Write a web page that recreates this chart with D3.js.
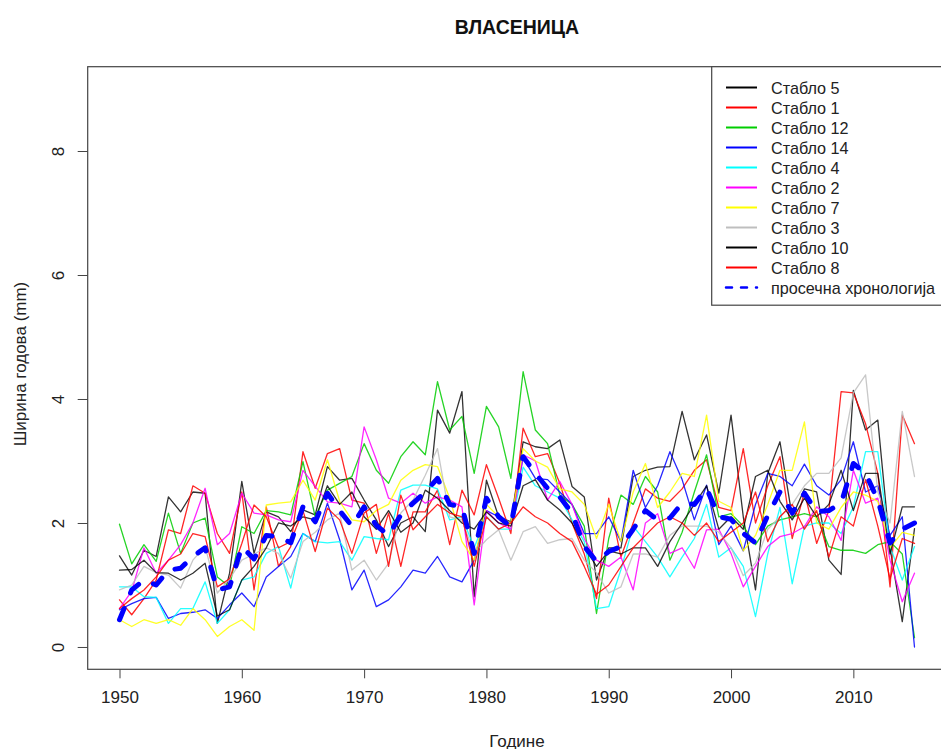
<!DOCTYPE html>
<html>
<head>
<meta charset="utf-8">
<script src="https://cdn.jsdelivr.net/npm/d3@7"></script>
<style>
  html, body { margin: 0; padding: 0; background: #fff; }
  svg { display: block; font-family: "Liberation Sans", Arial, sans-serif; }
</style>
</head>
<body>
<svg id="chart" width="941" height="749"></svg>
<script>
// Годишњи прираст (ширина годова, mm), 1950–2015
const years = d3.range(1950, 2016);

const stablo5 = [
  1.47, 1.16, 1.56, 1.46, 2.42, 2.18, 2.50, 2.48, 0.38, 1.19,
  2.67, 1.51, 2.18, 2.10, 1.86, 2.21, 2.13, 2.91, 2.69, 2.72,
  2.37, 2.05, 1.62, 2.00, 2.10, 1.86, 3.82, 3.45, 4.12, 0.81,
  2.69, 2.10, 2.02, 3.31, 3.23, 3.20, 3.34, 2.59, 2.42, 1.08,
  1.60, 1.60, 2.75, 2.85, 2.90, 2.91, 3.80, 3.02, 3.42, 2.48,
  3.74, 2.10, 0.92, 2.80, 3.31, 2.10, 2.55, 2.50, 1.40, 1.17,
  4.14, 3.50, 3.66, 1.60, 0.41, 1.91
];
const stablo1 = [
  0.76, 0.52, 0.78, 1.08, 1.89, 1.83, 2.60, 2.48, 1.83, 1.51,
  2.50, 0.92, 2.26, 1.30, 1.62, 3.15, 2.56, 3.12, 3.20, 2.37,
  2.32, 1.51, 2.16, 1.30, 2.18, 2.18, 2.53, 1.65, 2.53, 2.13,
  2.94, 2.40, 1.83, 3.53, 3.07, 3.12, 2.64, 2.00, 1.50, 0.78,
  2.40, 1.45, 2.00, 2.55, 2.40, 2.35, 2.55, 2.85, 3.02, 2.25,
  2.20, 3.20, 2.00, 2.60, 3.07, 1.75, 2.50, 1.67, 2.20, 4.12,
  4.10, 3.60, 2.80, 0.97, 3.74, 3.28
];
const stablo12 = [
  1.98, 1.34, 1.65, 1.38, 2.16, 1.51, 2.00, 2.08, 1.13, 0.97,
  1.94, 1.83, 2.20, 2.18, 2.13, 2.99, 2.10, 2.53, 2.64, 2.75,
  3.28, 2.85, 2.64, 3.07, 3.31, 3.10, 4.28, 3.50, 3.72, 2.80,
  3.88, 3.55, 2.72, 4.44, 3.50, 3.28, 2.45, 2.30, 1.95, 0.54,
  1.75, 2.45, 2.30, 2.75, 2.50, 1.40, 1.85, 2.50, 3.10, 2.10,
  2.15, 1.95, 1.65, 1.95, 2.05, 2.10, 2.15, 2.10, 1.62, 1.56,
  1.56, 1.51, 1.65, 1.70, 1.50, 0.15
];
const stablo14 = [
  0.60, 0.70, 0.78, 0.80, 0.46, 0.54, 0.56, 0.60, 0.46, 0.68,
  0.87, 0.65, 1.13, 1.30, 1.46, 1.83, 1.70, 2.32, 1.73, 0.92,
  1.24, 0.65, 0.76, 0.97, 1.24, 1.19, 1.46, 1.13, 1.05, 1.40,
  2.20, 2.10, 2.00, 3.05, 2.72, 2.70, 2.50, 2.30, 1.83, 1.83,
  2.10, 1.70, 2.85, 2.25, 2.60, 3.15, 2.70, 2.05, 2.61, 1.65,
  1.95, 1.55, 2.30, 2.80, 2.75, 2.60, 2.95, 2.60, 2.45, 2.70,
  3.31, 2.50, 2.60, 1.80, 2.10, 0.00
];
const stablo4 = [
  0.97, 0.97, 0.81, 0.80, 0.38, 0.62, 0.62, 1.05, 0.38, 0.60,
  1.08, 1.13, 1.51, 1.62, 0.95, 1.83, 1.70, 1.68, 1.70, 1.40,
  1.78, 1.75, 1.73, 2.53, 2.61, 2.61, 2.55, 2.05, 2.10, 1.60,
  2.10, 1.90, 1.90, 2.90, 2.60, 2.50, 2.40, 2.05, 1.70, 0.62,
  0.65, 1.25, 1.95, 1.70, 1.45, 1.13, 1.45, 1.75, 2.30, 1.45,
  1.60, 1.30, 0.49, 1.50, 2.25, 1.02, 1.95, 2.00, 2.00, 1.83,
  2.26, 3.15, 3.15, 1.62, 1.08, 1.62
];
const stablo2 = [
  0.62, 0.90, 1.60, 1.19, 1.40, 1.65, 2.00, 2.56, 1.65, 1.83,
  2.48, 2.16, 2.13, 2.05, 2.02, 2.85, 2.59, 2.34, 2.32, 2.26,
  3.55, 3.02, 2.40, 2.32, 2.48, 2.32, 2.42, 2.37, 2.26, 0.68,
  2.20, 2.00, 1.90, 3.10, 3.00, 2.37, 2.67, 2.30, 1.75, 1.40,
  1.30, 1.45, 0.92, 2.00, 2.15, 1.51, 1.60, 1.27, 1.89, 1.90,
  1.51, 0.97, 1.30, 1.62, 1.78, 1.83, 1.94, 2.26, 2.10, 1.72,
  2.85, 2.32, 2.40, 1.40, 0.73, 1.19
];
const stablo7 = [
  0.44, 0.33, 0.44, 0.38, 0.44, 0.35, 0.62, 0.44, 0.17, 0.33,
  0.44, 0.27, 2.29, 2.32, 2.34, 2.69, 2.37, 3.02, 2.35, 2.05,
  2.02, 2.20, 2.30, 2.69, 2.85, 2.94, 2.91, 2.40, 1.70, 1.40,
  2.30, 2.10, 2.00, 3.20, 3.00, 2.90, 2.55, 2.50, 2.30, 1.75,
  2.30, 1.70, 2.50, 2.96, 2.25, 2.50, 2.80, 2.75, 3.74, 2.35,
  2.25, 1.55, 1.80, 2.30, 2.85, 2.85, 3.63, 2.00, 1.90, 2.25,
  2.50, 2.45, 2.35, 1.60, 1.85, 1.80
];
const stablo3 = [
  0.92, 1.00, 1.30, 1.20, 1.16, 0.95, 1.40, 1.62, 0.87, 1.10,
  1.40, 1.50, 1.60, 1.51, 1.11, 1.70, 1.85, 2.05, 2.16, 1.24,
  1.40, 1.08, 1.35, 2.16, 2.37, 2.77, 3.20, 2.10, 2.05, 1.51,
  1.73, 1.89, 1.40, 1.86, 1.94, 1.67, 1.73, 1.75, 1.40, 1.20,
  0.87, 0.97, 1.50, 1.50, 1.45, 1.80, 1.95, 1.95, 1.95, 1.85,
  1.60, 1.15, 1.35, 1.90, 2.10, 2.30, 2.60, 2.80, 2.80, 3.05,
  4.10, 4.39, 2.50, 2.00, 3.80, 2.75
];
const stablo10 = [
  1.24, 1.25, 1.40, 1.20, 1.19, 1.08, 1.19, 1.35, 0.50, 0.60,
  1.08, 1.30, 1.60, 2.00, 1.95, 2.10, 2.05, 2.60, 2.30, 2.50,
  2.10, 1.90, 2.20, 1.85, 2.00, 2.53, 2.40, 2.20, 2.00, 1.90,
  2.18, 2.00, 1.95, 2.60, 2.70, 2.37, 2.21, 2.00, 1.62, 1.30,
  1.55, 1.50, 1.60, 1.60, 1.30, 1.70, 2.00, 2.30, 2.60, 1.90,
  2.10, 1.90, 2.75, 2.85, 2.35, 2.05, 2.40, 2.10, 2.30, 2.85,
  2.20, 2.80, 2.80, 1.50, 2.26, 2.26
];
const stablo8 = [
  0.62, 0.78, 0.92, 1.13, 1.40, 1.50, 1.83, 1.78, 0.97, 1.10,
  1.67, 2.29, 2.10, 1.60, 1.70, 2.20, 1.54, 2.24, 2.05, 1.51,
  2.16, 2.30, 1.30, 2.45, 1.89, 2.10, 2.30, 2.16, 2.10, 1.30,
  2.10, 1.90, 2.00, 2.26, 2.10, 2.00, 1.83, 1.70, 1.30, 0.85,
  1.00, 1.30, 1.60, 1.80, 2.00, 2.10, 2.00, 1.80, 2.00, 1.70,
  1.85, 2.00, 2.50, 1.70, 2.10, 2.30, 1.90, 2.20, 1.45, 2.10,
  1.95, 2.70, 1.95, 1.10, 1.75, 1.67
];
// просечна хронологија
const prosek = [
  0.44, 0.92, 1.08, 1.00, 1.24, 1.27, 1.46, 1.60, 0.92, 0.97,
  1.62, 1.42, 1.80, 1.78, 1.68, 2.26, 2.02, 2.48, 2.20, 1.95,
  2.26, 1.96, 1.80, 2.13, 2.32, 2.50, 2.72, 2.30, 2.26, 1.51,
  2.40, 2.10, 1.94, 3.07, 2.80, 2.56, 2.42, 2.16, 1.62, 1.38,
  1.54, 1.62, 1.90, 2.20, 2.05, 2.08, 2.32, 2.30, 2.56, 2.10,
  2.06, 1.83, 1.68, 2.12, 2.50, 2.16, 2.48, 2.18, 2.20, 2.32,
  2.96, 2.80, 2.37, 1.68, 1.90, 2.00
];

const seriesNames = ["Стабло 5", "Стабло 1", "Стабло 12", "Стабло 14", "Стабло 4",
                     "Стабло 2", "Стабло 7", "Стабло 3", "Стабло 10", "Стабло 8"];
const seriesValues = [stablo5, stablo1, stablo12, stablo14, stablo4,
                      stablo2, stablo7, stablo3, stablo10, stablo8];
const seriesColors = ["#000000", "#FF0000", "#00CD00", "#0000FF", "#00FFFF",
                      "#FF00FF", "#FFFF00", "#BEBEBE", "#000000", "#FF0000"];
const meanName = "просечна хронологија";
const xTicks = [1950, 1960, 1970, 1980, 1990, 2000, 2010];
const yTicks = [0, 2, 4, 6, 8];

const title = "ВЛАСЕНИЦА";
const xTitle = "Године";
const yTitle = "Ширина годова (mm)";

// plot region
const plotL = 87.7, plotR = 946.3, plotT = 66.7, plotB = 669.3;
const svg = d3.select("#chart");
const font = '"Liberation Sans", Arial, sans-serif';

const x = d3.scaleLinear().domain([1947.4, 2017.6]).range([plotL, plotR]);
const y = d3.scaleLinear().domain([-0.36, 9.36]).range([plotB, plotT]);

svg.append("rect").attr("width", 941).attr("height", 749).attr("fill", "#fff");

svg.append("defs").append("clipPath").attr("id", "plotclip")
  .append("rect").attr("x", plotL).attr("y", plotT)
  .attr("width", plotR - plotL).attr("height", plotB - plotT);

const line = d3.line().x((d, i) => x(years[i])).y(d => y(d));

const plot = svg.append("g").attr("clip-path", "url(#plotclip)");
seriesValues.forEach((vals, k) => {
  plot.append("path")
    .datum(vals)
    .attr("d", line)
    .attr("fill", "none")
    .attr("stroke", seriesColors[k])
    .attr("stroke-opacity", k === 0 || k === 8 ? 0.8 : 0.85)
    .attr("stroke-width", 1.3)
    .attr("stroke-linejoin", "round")
    .attr("stroke-linecap", "round");
});
plot.append("path")
  .datum(prosek)
  .attr("d", line)
  .attr("fill", "none")
  .attr("stroke", "#0000FF")
  .attr("stroke-width", 5)
  .attr("stroke-dasharray", "12 17")
  .attr("stroke-linecap", "round")
  .attr("stroke-linejoin", "round");

// axes
const xAxis = d3.axisBottom(x).tickValues(xTicks).tickSize(9).tickPadding(13)
  .tickFormat(d3.format("d"));
const gx = svg.append("g").attr("transform", `translate(0,${plotB})`).call(xAxis);
gx.select(".domain").remove();
gx.selectAll("line").attr("stroke", "#444");
gx.selectAll("text").attr("font-size", 17).attr("font-family", font).attr("fill", "#222");

const yAxis = d3.axisLeft(y).tickValues(yTicks).tickSize(10).tickFormat(d3.format("d"));
const gy = svg.append("g").attr("transform", `translate(${plotL},0)`).call(yAxis);
gy.select(".domain").remove();
gy.selectAll("line").attr("stroke", "#444");
// tick labels run parallel to the axis
gy.selectAll(".tick text")
  .attr("font-size", 17).attr("font-family", font).attr("fill", "#222")
  .attr("transform", "rotate(-90)")
  .attr("x", 0).attr("y", -29).attr("dy", null)
  .attr("text-anchor", "middle").attr("dominant-baseline", "central");

// box
svg.append("rect")
  .attr("x", plotL).attr("y", plotT)
  .attr("width", plotR - plotL).attr("height", plotB - plotT)
  .attr("fill", "none").attr("stroke", "#444").attr("stroke-width", 1.2);

// titles
svg.append("text").attr("x", (plotL + plotR) / 2).attr("y", 27)
  .attr("text-anchor", "middle").attr("dominant-baseline", "central")
  .attr("font-family", font).attr("font-weight", "bold").attr("font-size", 19.5)
  .attr("fill", "#111").text(title);
svg.append("text").attr("x", (plotL + plotR) / 2).attr("y", 741)
  .attr("text-anchor", "middle").attr("dominant-baseline", "central")
  .attr("font-family", font).attr("font-size", 17).attr("fill", "#222").text(xTitle);
svg.append("text")
  .attr("transform", `translate(20,${(plotT + plotB) / 2 - 4}) rotate(-90)`)
  .attr("text-anchor", "middle").attr("dominant-baseline", "central")
  .attr("font-family", font).attr("font-size", 17).attr("fill", "#222").text(yTitle);

// legend
const legX = 711.7, legY = plotT, legW = plotR - legX, legH = 238.5;
const leg = svg.append("g");
leg.append("rect").attr("x", legX).attr("y", legY).attr("width", legW).attr("height", legH)
  .attr("fill", "#fff").attr("stroke", "#444").attr("stroke-width", 1.2);
const legendItems = seriesNames.map((n, i) => ({ name: n, color: seriesColors[i], dash: null, width: 2 }))
  .concat([{ name: meanName, color: "#0000FF", dash: "6 9", width: 2.5 }]);
legendItems.forEach((it, i) => {
  const cy = 87.5 + i * 20;
  leg.append("line").attr("x1", 726).attr("x2", 757).attr("y1", cy).attr("y2", cy)
    .attr("stroke", it.color).attr("stroke-width", it.width)
    .attr("stroke-dasharray", it.dash).attr("stroke-linecap", it.dash ? "round" : "butt");
  leg.append("text").attr("x", 771).attr("y", cy).attr("dominant-baseline", "central")
    .attr("font-family", font).attr("font-size", 16.2).attr("fill", "#222").text(it.name);
});
</script>
</body>
</html>
